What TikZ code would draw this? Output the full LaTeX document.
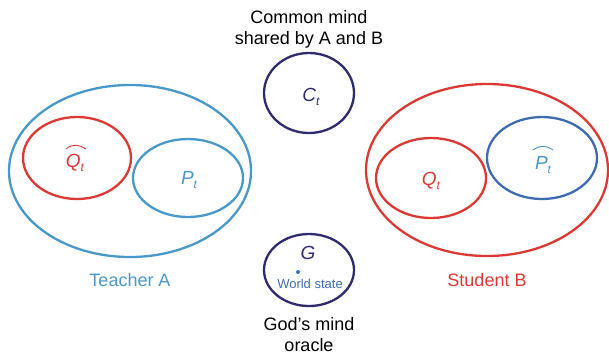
\documentclass[tikz,border=0pt]{standalone}
\usepackage{fontspec}
\setmainfont{Liberation Sans}
\usetikzlibrary{shapes.geometric,calc}
\definecolor{lblue}{RGB}{72,152,203}
\definecolor{dblue}{RGB}{62,108,178}
\definecolor{cred}{RGB}{222,56,52}
\definecolor{navy}{RGB}{46,44,110}
\newcommand{\sym}[2]{\fontsize{19}{22}\selectfont\itshape #1\raisebox{-0.4ex}{\fontsize{12}{14}\selectfont #2}}
\begin{document}
\begin{tikzpicture}[x=1pt,y=-1pt,
  ell/.style={ellipse,draw,line width=2.3pt,inner sep=0pt},
  sy/.style={inner sep=0pt},
  hatline/.style={line width=0.9pt},
  lbl/.style={font=\fontsize{18}{21}\selectfont,align=center}]
\useasboundingbox (0,0) rectangle (609,357);
% Teacher A
\node[ell,lblue,minimum width=242,minimum height=172] (TA) at (130,171) {};
\node[ell,cred,minimum width=108,minimum height=82] (QA) at (77,158) {};
\node[sy,text=cred] (QAt) at (75,163) {\sym{Q}{t}};
\draw[hatline,cred] ($(QAt)+(-9,-14)$) .. controls ($(QAt)+(-3,-19)$) and ($(QAt)+(3,-19)$) .. ($(QAt)+(11,-14)$);
\node[ell,lblue,minimum width=110,minimum height=78] (PA) at (188,178) {};
\node[sy,text=lblue] (PAt) at (189,180) {\sym{P}{t}};
\node[lbl,text=lblue] (LA) at (130,280) {Teacher A};
% Student B
\node[ell,cred,minimum width=242,minimum height=172] (SB) at (487,170) {};
\node[ell,cred,minimum width=110,minimum height=80] (QB) at (431,178) {};
\node[sy,text=cred] (QBt) at (431,181) {\sym{Q}{t}};
\node[ell,dblue,minimum width=110,minimum height=82] (PB) at (542,158) {};
\node[sy,text=lblue] (PBt) at (543,165) {\sym{P}{t}};
\draw[hatline,lblue] ($(PBt)+(-10,-15)$) .. controls ($(PBt)+(-3,-20)$) and ($(PBt)+(3,-20)$) .. ($(PBt)+(10,-15)$);
\node[lbl,text=cred] (LB) at (487,280) {Student B};
% Common mind
\node[ell,navy,minimum width=90,minimum height=80] (C) at (309,93) {};
\node[sy,text=navy] (Ct) at (311,97) {\sym{C}{t}};
\node[lbl] (LC) at (309,29) {Common mind\\shared by A and B};
% God's mind
\node[ell,navy,minimum width=90,minimum height=72] (G) at (309,270) {};
\node[sy,text=navy,font=\fontsize{19}{22}\selectfont\itshape] (Gl) at (308,253) {G};
\node[circle,fill=dblue,inner sep=0pt,minimum size=4] (dot) at (298,272) {};
\node[text=dblue,font=\fontsize{13}{15}\selectfont,inner sep=0pt] (ws) at (310,284) {World state};
\node[lbl] (LG) at (309,335) {God’s mind\\oracle};
\end{tikzpicture}
\end{document}
